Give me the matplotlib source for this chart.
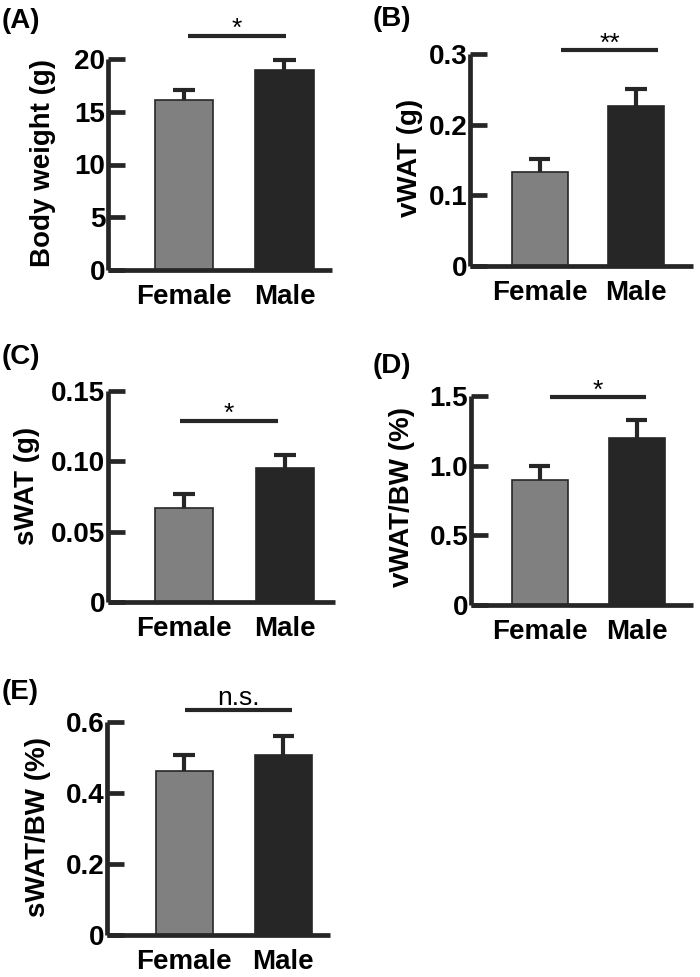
import matplotlib
matplotlib.use("Agg")
import matplotlib.pyplot as plt

plt.rcParams['font.family'] = ['Liberation Sans', 'DejaVu Sans']
plt.rcParams['font.weight'] = 'bold'

# data (mean + upper error)
groups = ["Female", "Male"]
bar_colors = ["#808080", "#262626"]

bw_mean = [16.1, 19.0]
bw_err = [1.0, 0.95]

vwat_mean = [0.133, 0.227]
vwat_err = [0.019, 0.024]

swat_mean = [0.067, 0.095]
swat_err = [0.0095, 0.0098]

vwat_bw_mean = [0.90, 1.20]
vwat_bw_err = [0.10, 0.13]

swat_bw_mean = [0.462, 0.508]
swat_bw_err = [0.044, 0.052]

ylabels = ["Body weight (g)", "vWAT (g)", "sWAT (g)", "vWAT/BW (%)", "sWAT/BW (%)"]
letters = ["(A)", "(B)", "(C)", "(D)", "(E)"]
yticks = [[0, 5, 10, 15, 20], [0, 0.1, 0.2, 0.3], [0, 0.05, 0.10, 0.15],
          [0, 0.5, 1.0, 1.5], [0, 0.2, 0.4, 0.6]]
ytick_labels = [["0", "5", "10", "15", "20"], ["0", "0.1", "0.2", "0.3"],
                ["0", "0.05", "0.10", "0.15"], ["0", "0.5", "1.0", "1.5"],
                ["0", "0.2", "0.4", "0.6"]]
sig_text = ["*", "**", "*", "*", "n.s."]
sig_y = [22.2, 0.305, 0.129, 1.49, 0.633]
sig_x = [(0.04, 1.02), (0.22, 1.23), (-0.04, 0.935), (0.1, 1.1), (0.005, 1.09)]

means = [bw_mean, vwat_mean, swat_mean, vwat_bw_mean, swat_bw_mean]
errs = [bw_err, vwat_err, swat_err, vwat_bw_err, swat_bw_err]

# layout in pixels: left, top, right, bottom of the axes box
W, H = 700, 977
boxes = [(108, 59, 332, 270), (470, 54, 693, 266), (108, 391, 335, 602),
         (471, 396, 693, 605), (107, 722, 330, 935)]
xlims = [(-0.756, 1.473), (-0.72, 1.59), (-0.756, 1.50), (-0.71, 1.58), (-0.78, 1.47)]
label_pos = [(-0.29, 0.507), (-0.27, 0.51), (-0.357, 0.55), (-0.31, 0.517), (-0.31, 0.507)]
letter_pos = [(2, 21), (373, 19), (2, 357), (373, 366), (2, 692)]

dark = "#262626"
fig = plt.figure(figsize=(7, 9.77), dpi=100)

for i in range(5):
    l, t, r, b = boxes[i]
    ax = fig.add_axes([l / W, 1 - b / H, (r - l) / W, (b - t) / H])
    x = [0, 1]
    m = means[i]
    tops = [m[k] + errs[i][k] for k in range(2)]
    ax.bar(x, m, width=0.58, color=bar_colors, edgecolor=dark, linewidth=1.2, zorder=2)
    # upper error bar only: stem + cap
    ax.vlines(x, m, tops, color=dark, linewidth=3, zorder=3)
    ax.hlines(tops, [k - 0.11 for k in x], [k + 0.11 for k in x], color=dark,
              linewidth=3, zorder=3, clip_on=False)
    ax.set_xlim(*xlims[i])
    ax.set_ylim(0, yticks[i][-1])
    ax.set_xticks(x)
    ax.set_xticklabels(groups, fontsize=20, fontweight='bold')
    ax.set_yticks(yticks[i])
    ax.set_yticklabels(ytick_labels[i], fontsize=20, fontweight='bold')
    ax.tick_params(axis='x', length=0, pad=10)
    ax.tick_params(axis='y', direction='in', length=12, width=3.4, color=dark, pad=2)
    for s in ['top', 'right']:
        ax.spines[s].set_visible(False)
    for s in ['left', 'bottom']:
        ax.spines[s].set_linewidth(3.4)
        ax.spines[s].set_color(dark)
        ax.spines[s].set_capstyle('butt')
    ax.text(label_pos[i][0], label_pos[i][1], ylabels[i], transform=ax.transAxes,
            rotation=90, ha='center', va='center', fontsize=20, fontweight='bold')

    # significance bar
    x0, x1 = sig_x[i]
    ax.plot([x0, x1], [sig_y[i], sig_y[i]], color=dark, linewidth=3, clip_on=False,
            solid_capstyle='butt')
    off = 4 if sig_text[i] == "n.s." else 0
    ax.annotate(sig_text[i], xy=((x0 + x1) / 2, sig_y[i]), xytext=(0, off),
                textcoords='offset points', ha='center', va='baseline',
                fontsize=19, fontweight='normal', annotation_clip=False)

    fig.text(letter_pos[i][0] / W, 1 - letter_pos[i][1] / H, letters[i],
             ha='left', va='center', fontsize=20, fontweight='bold')

plt.savefig("out.png", dpi=100)
